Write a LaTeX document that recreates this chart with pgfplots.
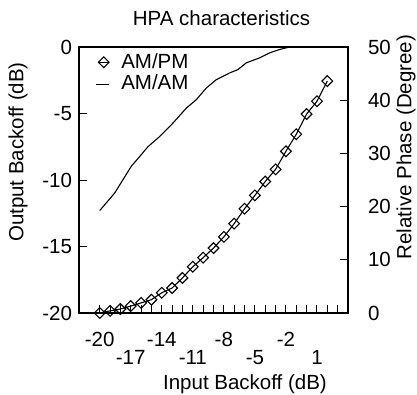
\documentclass[border=0pt]{standalone}
\usepackage{pgfplots}
\pgfplotsset{compat=1.18}
\usepackage{fontspec}
\setmainfont{Liberation Sans}
\begin{document}
\fontsize{20.5}{24}\selectfont
\begin{tikzpicture}
\useasboundingbox (-79pt,-81pt) rectangle (338pt,313pt);
\pgfplotsset{
  base/.style={
    scale only axis, width=269pt, height=266pt,
    at={(0pt,0pt)}, anchor=south west,
    xmin=-22, xmax=4,
    tick align=inside, major tick length=8pt, minor tick length=8pt,
    every tick/.style={black, line width=1pt},
    axis line style={line width=1.2pt},
    tick label style={font=\fontsize{20.5}{24}\selectfont},
    label style={font=\fontsize{20.5}{24}\selectfont},
  }
}
\begin{axis}[base,
  ymin=-20, ymax=0,
  ytick={-20,-15,-10,-5,0}, yticklabels={-20,-15,-10,-5,0},
  ytick pos=left,
  xtick={-20,-14,-8,-2}, xticklabels={-20,-14,-8,-2},
  extra x ticks={-17,-11,-5,1}, extra x tick labels={-17,-11,-5,1},
  extra x tick style={xticklabel style={yshift=-18pt}},
  xticklabel style={yshift=-12pt},
  minor xtick={-19,-18,...,3},
  xtick pos=left,
  title={HPA characteristics},
  title style={at={(axis description cs:0.53,1)}, anchor=center, yshift=23pt, font=\fontsize{20.5}{24}\selectfont},
  xlabel={Input Backoff (dB)},
  every axis x label/.style={at={(axis description cs:0.617,0)}, yshift=-71pt, anchor=center},
  ylabel={Output Backoff (dB)},
  every axis y label/.style={at={(axis description cs:0,0.605)}, xshift=-61pt, rotate=90, anchor=center},
  legend style={draw=none, fill=none, at={(axis description cs:0,1)}, anchor=north west, xshift=10pt, yshift=-2pt, font=\fontsize{20.5}{24}\selectfont, row sep=0pt},
  legend cell align=left,
]
\addlegendimage{black, line width=1.1pt,
  legend image code/.code={\fill[white, opacity=0] (0pt,-1pt) rectangle (17pt,1pt); \draw[black, line width=1.1pt] (6pt,0pt)--(16pt,0pt); \draw[black, line width=1.1pt, rotate around={45:(11pt,0pt)}] (7.2pt,-3.8pt) rectangle (14.8pt,3.8pt);}}
\addlegendentry{\hspace{9pt}AM/PM}
\addplot[black, line width=1.1pt, legend image code/.code={\fill[white, opacity=0] (0pt,-1pt) rectangle (17pt,1pt); \draw[black, line width=1.1pt] (3pt,0pt)--(16pt,0pt);}] coordinates {
(-20,-12.3) (-18.55,-10.98) (-16.94,-8.96) (-16.14,-8.24) (-15.33,-7.49) (-14.2,-6.73)
(-12.92,-5.72) (-11.62,-4.59) (-10.66,-3.96) (-9.69,-3.08) (-8.72,-2.45) (-7.44,-1.95)
(-6.64,-1.70) (-5.83,-1.19) (-4.54,-0.82) (-3.57,-0.44) (-2.61,-0.19) (-1.64,0) (2,0)
};
\addlegendentry{\hspace{9pt}AM/AM}
\end{axis}
\begin{axis}[base,
  ymin=0, ymax=50,
  ytick={0,10,20,30,40,50}, yticklabels={0,10,20,30,40,50},
  axis x line=none, axis y line*=right,
  yticklabel style={xshift=13pt},
  ylabel={Relative Phase (Degree)},
  every axis y label/.style={at={(axis description cs:1,0.624)}, xshift=58pt, rotate=90, anchor=center},
  clip=false,
]
\addplot[black, line width=1.1pt, mark=square, mark size=3.8, mark options={rotate=45, solid}] coordinates {
(-20,0) (-19,0.4) (-18,0.75) (-17,1.3) (-16,1.9) (-15,2.5) (-14,3.8) (-13,4.7) (-12,6.6)
(-11,8.7) (-10,10.4) (-9,12.2) (-8,14.3) (-7,16.8) (-6,19.6) (-5,22.1) (-4,24.7) (-3,27.0)
(-2,30.4) (-1,33.6) (0,37.4) (1,39.8) (2,43.6)
};
\end{axis}
\end{tikzpicture}
\end{document}
